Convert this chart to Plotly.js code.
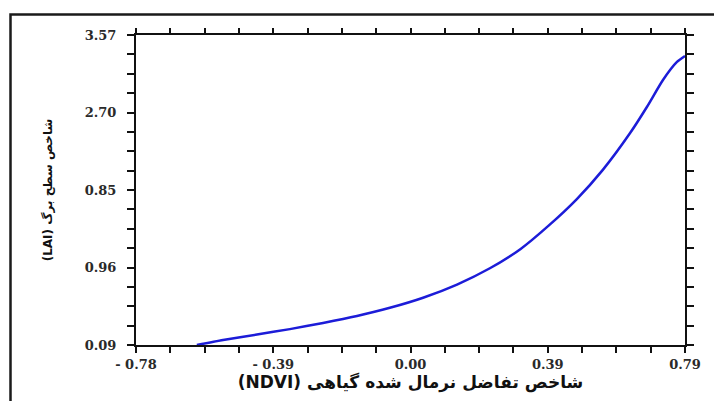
<!DOCTYPE html>
<html>
<head>
<meta charset="utf-8">
<script src="https://cdn.plot.ly/plotly-3.0.1.min.js"></script>
<style>
  html, body { margin: 0; padding: 0; background: #ffffff; overflow: hidden; }
  #chart { width: 714px; height: 401px; }
</style>
</head>
<body>
<div id="chart"></div>
<script>
// ---- data ----
// NDVI values along the curve
const ndviValues = [-0.606, -0.531, -0.434, -0.340, -0.245, -0.148, -0.054, 0.041, 0.138, 0.232, 0.320, 0.400, 0.480, 0.555, 0.633, 0.681, 0.727, 0.767, 0.790];
// curve height in y-axis tick-step units (0 = bottom tick, 4 = top tick)
const laiPositions = [0.000, 0.065, 0.135, 0.205, 0.285, 0.375, 0.480, 0.610, 0.780, 0.990, 1.240, 1.540, 1.880, 2.260, 2.735, 3.071, 3.419, 3.652, 3.729];

// axis tick labels as printed
const xTickLabels = ['- 0.78', '- 0.39', '0.00', '0.39', '0.79'];
const xMin = -0.78, xMax = 0.79;
const yTickLabels = ['0.09', '0.96', '0.85', '2.70', '3.57'];
const yMin = 0, yMax = 4;

const xTitle = '\u202Bشاخص تفاضل نرمال شده گیاهی (NDVI)\u202C';
const yTitle = '\u202Bشاخص سطح برگ (LAI)\u202C';

// 4 tick intervals between labels on each axis (labels on every 4th tick)
const subdiv = 4;
function buildTicks(min, max, labels) {
  const n = (labels.length - 1) * subdiv;
  const vals = [], text = [];
  for (let i = 0; i <= n; i++) {
    vals.push(min + i * (max - min) / n);
    text.push(i % subdiv === 0 ? labels[i / subdiv] : '');
  }
  return { vals, text };
}
const xTicks = buildTicks(xMin, xMax, xTickLabels);
const yTicks = buildTicks(yMin, yMax, yTickLabels);

const tickFont = { family: 'DejaVu Serif', size: 13, color: '#2a2a2a', weight: 'bold' };
const titleFont = { family: 'DejaVu Sans', size: 17, color: '#111111', weight: 'bold' };

const curve = {
  x: ndviValues,
  y: laiPositions,
  type: 'scatter',
  mode: 'lines',
  line: { color: '#1c1cd8', width: 2.5, shape: 'spline', smoothing: 0.6 },
  hoverinfo: 'skip',
  showlegend: false
};
// same data on the top/right frame axes (invisible) so those axes get drawn
const frameTrace = {
  x: ndviValues,
  y: laiPositions,
  xaxis: 'x2',
  yaxis: 'y2',
  type: 'scatter',
  mode: 'lines',
  line: { width: 0, color: 'rgba(0,0,0,0)' },
  opacity: 0,
  hoverinfo: 'skip',
  showlegend: false
};

const frameAxis = {
  tickmode: 'array',
  ticks: 'outside',
  tickwidth: 2,
  tickcolor: '#111111',
  showline: true,
  linecolor: '#111111',
  linewidth: 2,
  showgrid: false,
  zeroline: false,
  fixedrange: true
};

const layout = {
  width: 714,
  height: 401,
  margin: { l: 136, r: 29, t: 35, b: 56 },
  paper_bgcolor: '#ffffff',
  plot_bgcolor: '#ffffff',
  showlegend: false,
  xaxis: Object.assign({}, frameAxis, {
    range: [xMin, xMax],
    tickvals: xTicks.vals,
    ticktext: xTicks.text,
    ticklen: 6,
    tickfont: tickFont,
    ticklabelstandoff: 0,
    title: { text: xTitle, font: titleFont, standoff: 4 }
  }),
  yaxis: Object.assign({}, frameAxis, {
    range: [yMin, yMax],
    tickvals: yTicks.vals,
    ticktext: yTicks.text,
    ticklen: 7,
    tickfont: tickFont,
    ticklabelstandoff: 8,
    title: { text: yTitle, font: Object.assign({}, titleFont, { size: 12 }), standoff: 30 }
  }),
  // top and right frame axes carrying the tick marks on those sides
  xaxis2: Object.assign({}, frameAxis, {
    range: [xMin, xMax],
    tickvals: xTicks.vals,
    showticklabels: false,
    ticklen: 5,
    side: 'top',
    overlaying: 'x',
    anchor: 'y2'
  }),
  yaxis2: Object.assign({}, frameAxis, {
    range: [yMin, yMax],
    tickvals: yTicks.vals,
    showticklabels: false,
    ticklen: 7,
    side: 'right',
    overlaying: 'y',
    anchor: 'x2'
  }),
  shapes: [{
    type: 'rect',
    xref: 'paper', yref: 'paper',
    x0: (10.5 - 136) / 549, x1: (730 - 136) / 549,
    y0: (345 - 420) / 310, y1: (345 - 14.5) / 310,
    line: { color: '#1a1a1a', width: 2.5 },
    fillcolor: 'rgba(0,0,0,0)',
    layer: 'below'
  }]
};

Plotly.newPlot('chart', [curve, frameTrace], layout, { displayModeBar: false, staticPlot: true });
</script>
</body>
</html>
